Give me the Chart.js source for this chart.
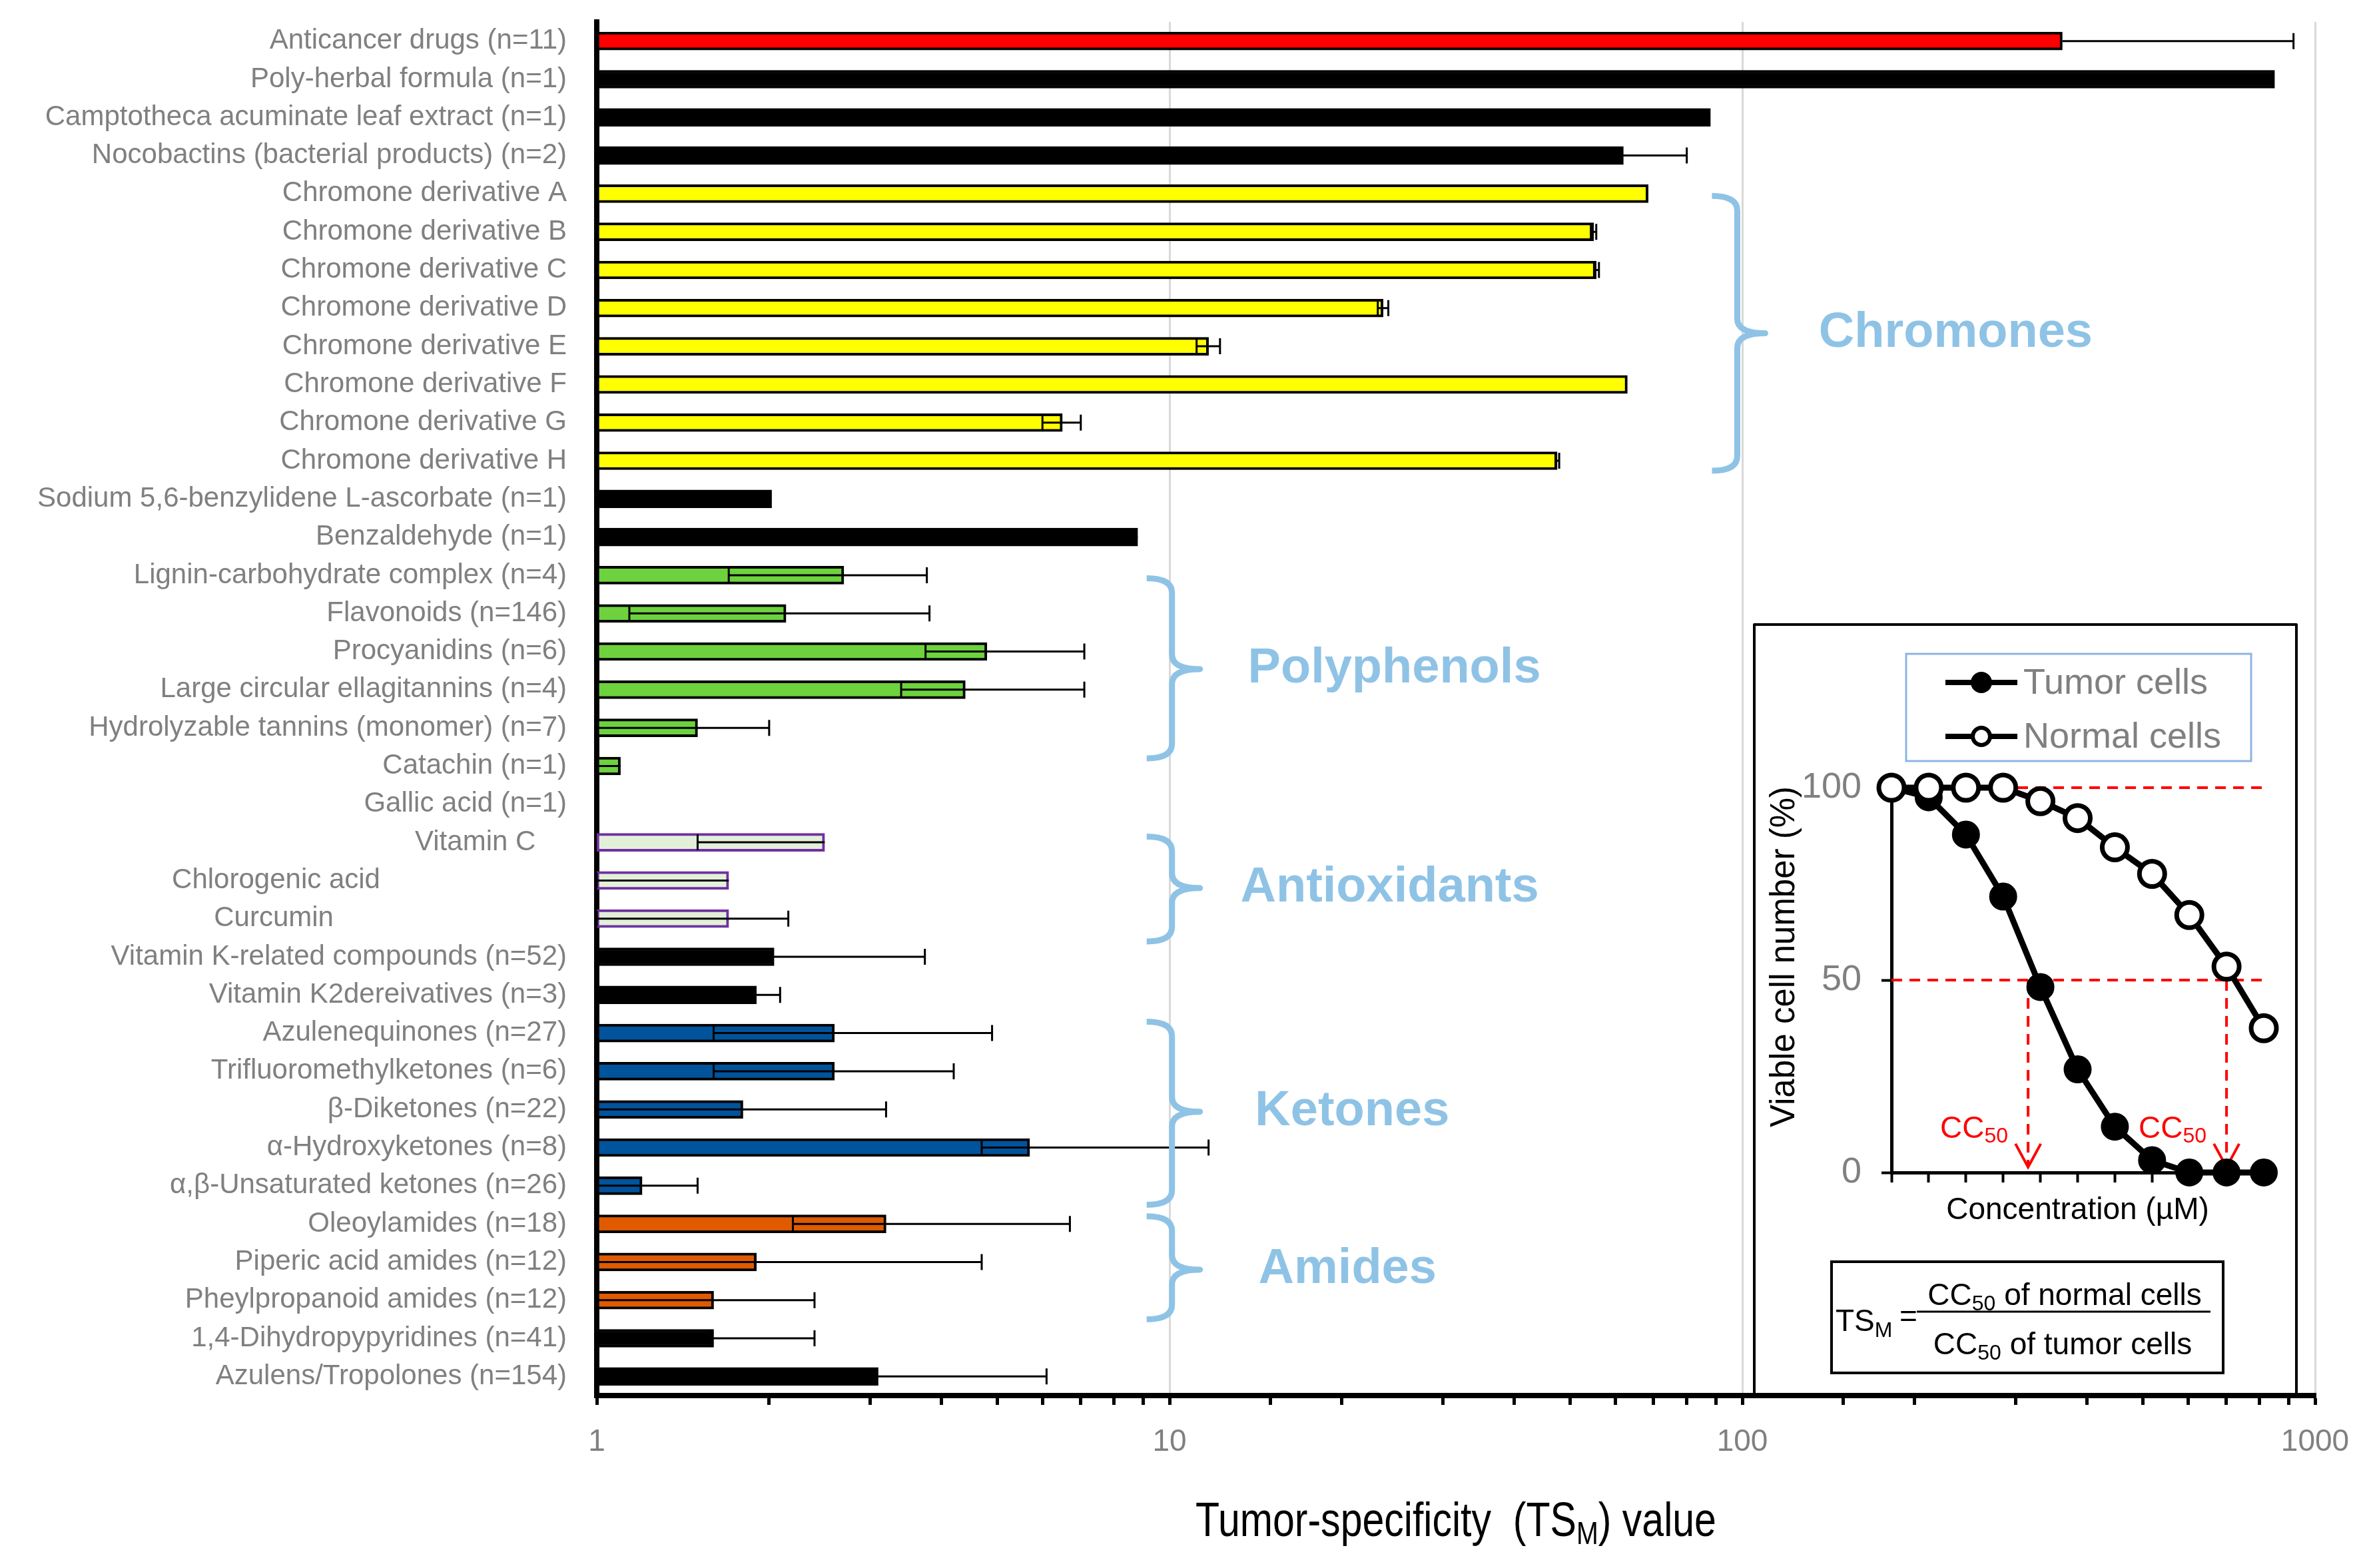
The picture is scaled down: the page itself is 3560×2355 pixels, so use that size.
<!DOCTYPE html>
<html>
<head>
<meta charset="utf-8">
<script src="https://cdn.jsdelivr.net/npm/chart.js@4.4.1/dist/chart.umd.min.js"></script>
<style>
  html, body { margin: 0; padding: 0; background: #fff; }
  #wrap { position: relative; width: 3560px; height: 2355px; }
  #main { position: absolute; left: 0; top: 0; }
  #inset { position: absolute; left: 2636px; top: 940px; }
</style>
</head>
<body>
<div id="wrap">
  <canvas id="main" width="3560" height="2355"></canvas>
  <canvas id="inset" width="810" height="1150"></canvas>
</div>
<script>
// data
const compounds = [
  "Anticancer drugs (n=11)", "Poly-herbal formula (n=1)", "Camptotheca acuminate leaf extract (n=1)",
  "Nocobactins (bacterial products) (n=2)", "Chromone derivative A", "Chromone derivative B",
  "Chromone derivative C", "Chromone derivative D", "Chromone derivative E", "Chromone derivative F",
  "Chromone derivative G", "Chromone derivative H", "Sodium 5,6-benzylidene L-ascorbate (n=1)",
  "Benzaldehyde (n=1)", "Lignin-carbohydrate complex (n=4)", "Flavonoids (n=146)", "Procyanidins (n=6)",
  "Large circular ellagitannins (n=4)", "Hydrolyzable tannins (monomer) (n=7)", "Catachin (n=1)",
  "Gallic acid (n=1)", "Vitamin C", "Chlorogenic acid", "Curcumin", "Vitamin K-related compounds (n=52)",
  "Vitamin K2dereivatives (n=3)", "Azulenequinones (n=27)", "Trifluoromethylketones (n=6)",
  "β-Diketones (n=22)", "α-Hydroxyketones (n=8)", "α,β-Unsaturated ketones (n=26)", "Oleoylamides (n=18)",
  "Piperic acid amides (n=12)", "Pheylpropanoid amides (n=12)", "1,4-Dihydropypyridines (n=41)",
  "Azulens/Tropolones (n=154)"
];
const tsmValues = [362, 850, 88, 62, 68.5, 55, 55.6, 23.6, 11.7, 63, 6.5, 47.5, 2.02, 8.8,
  2.7, 2.14, 4.8, 4.4, 1.5, 1.1, null, 2.5, 1.7, 1.7, 2.04, 1.9,
  2.6, 2.6, 1.8, 5.7, 1.2, 3.2, 1.9, 1.6, 1.6, 3.1];
const errMinus = [0, 0, 0, 1, 0, 0.6, 0.5, 0.5, 0.55, 0, 0.5, 0.3, 0, 1.0,
  1.0, 1.0, 1.05, 1.0, 0.5, 0.1, 0, 1.0, 0.7, 0.7, 1.0, 0.19,
  1.0, 1.0, 0.8, 1.0, 0.2, 1.0, 0.9, 0.6, 0.6, 1.0];
const errPlus = [555, 0, 0, 18, 0, 0.6, 0.6, 0.5, 0.55, 0, 0.5, 0.4, 0, 0,
  1.07, 1.67, 2.3, 2.7, 0.5, 0, 0, 0, 0, 0.46, 1.7, 0.19,
  2.3, 1.6, 1.4, 6.0, 0.3, 3.5, 2.8, 0.8, 0.8, 3.0];
const barKinds = ["red", "black", "black", "black",
  "yellow", "yellow", "yellow", "yellow", "yellow", "yellow", "yellow", "yellow",
  "black", "black", "green", "green", "green", "green", "green", "green", "green",
  "lilac", "lilac", "lilac", "black", "black",
  "blue", "blue", "blue", "blue", "blue", "orange", "orange", "orange", "black", "black"];

// inset: viability curves
const concSteps = [0, 1, 2, 3, 4, 5, 6, 7, 8, 9, 10];
const tumorViable = [100, 97.5, 87.8, 71.7, 48.2, 26.8, 11.9, 3.2, 0, 0, 0];
const normalViable = [100, 100, 100, 100, 96.5, 92.1, 84.5, 77.6, 66.9, 53.5, 37.5];
const cc50Tumor = 3.67;
const cc50Normal = 9.0;

// styling
const SANS = "'Liberation Sans', Arial, sans-serif";
const GRAY = "#808080";
const BRACE = "#8fc3e6";
const kindFill = { red: "#ff0000", black: "#000000", yellow: "#ffff00", green: "#6dd23e",
  lilac: "#e2f0d9", blue: "#01539b", orange: "#e05a00" };
const kindBorder = { red: "#000", black: "#000", yellow: "#000", green: "#000",
  lilac: "#7030a0", blue: "#000", orange: "#000" };
const labelNudge = { 21: 4, 22: 24, 23: 30 };
const groupNotes = [
  { name: "Chromones", top: 4.06, tip: 7.66, bottom: 11.26, at: 98, textAt: 136 },
  { name: "Polyphenols", top: 14.08, tip: 16.46, bottom: 18.8, at: 10.1, textAt: 13.7 },
  { name: "Antioxidants", top: 20.85, tip: 22.2, bottom: 23.6, at: 10.1, textAt: 13.3 },
  { name: "Ketones", top: 25.7, tip: 28.06, bottom: 30.5, at: 10.1, textAt: 14.1 },
  { name: "Amides", top: 30.8, tip: 32.2, bottom: 33.5, at: 10.1, textAt: 14.3 }
];

Chart.defaults.font.family = SANS;

const isDecade = v => Math.abs(Math.log10(v) - Math.round(Math.log10(v))) < 1e-9;

// text with subscripts: parts = [text, size, dy]
function drawParts(ctx, parts, x, y, align) {
  let total = 0;
  parts.forEach(p => { ctx.font = p[1] + "px " + SANS; total += ctx.measureText(p[0]).width; });
  let cx = align === "center" ? x - total / 2 : align === "right" ? x - total : x;
  ctx.textAlign = "left";
  ctx.textBaseline = "alphabetic";
  parts.forEach(p => {
    ctx.font = p[1] + "px " + SANS;
    ctx.fillText(p[0], cx, y + (p[2] || 0));
    cx += ctx.measureText(p[0]).width;
  });
}

function drawBrace(ctx, xp, yTop, yTip, yBot) {
  const hook = 38, nub = 42, r = 22;
  ctx.beginPath();
  ctx.moveTo(xp - hook, yTop);
  ctx.quadraticCurveTo(xp, yTop, xp, yTop + r);
  ctx.lineTo(xp, yTip - r);
  ctx.quadraticCurveTo(xp, yTip, xp + nub, yTip);
  ctx.quadraticCurveTo(xp, yTip, xp, yTip + r);
  ctx.lineTo(xp, yBot - r);
  ctx.quadraticCurveTo(xp, yBot, xp - hook, yBot);
  ctx.stroke();
}

const mainOverlay = {
  id: "mainOverlay",
  afterDatasetsDraw(chart) {
    const { ctx, chartArea, scales: { x, y } } = chart;
    ctx.save();
    // error bars
    ctx.strokeStyle = "#000";
    ctx.lineWidth = 3;
    tsmValues.forEach((v, i) => {
      if (v === null) return;
      const lo = errMinus[i], hi = errPlus[i];
      if (!lo && !hi) return;
      const yc = y.getPixelForValue(i);
      const xa = x.getPixelForValue(Math.max(1, v - lo));
      const xb = x.getPixelForValue(v + hi);
      ctx.beginPath();
      ctx.moveTo(xa, yc); ctx.lineTo(xb, yc);
      if (lo) { ctx.moveTo(xa, yc - 12); ctx.lineTo(xa, yc + 12); }
      if (hi) { ctx.moveTo(xb, yc - 12); ctx.lineTo(xb, yc + 12); }
      ctx.stroke();
    });
    // group braces and names
    ctx.strokeStyle = BRACE;
    ctx.fillStyle = BRACE;
    ctx.lineWidth = 9;
    ctx.lineJoin = "round";
    groupNotes.forEach(g => {
      drawBrace(ctx, x.getPixelForValue(g.at), y.getPixelForValue(g.top),
        y.getPixelForValue(g.tip), y.getPixelForValue(g.bottom));
      ctx.font = "bold 74px " + SANS;
      ctx.textAlign = "left";
      ctx.textBaseline = "middle";
      ctx.fillText(g.name, x.getPixelForValue(g.textAt), y.getPixelForValue(g.tip));
    });
    // frame of the inset
    ctx.fillStyle = "#fff";
    ctx.fillRect(2634, 938, 814, chartArea.bottom - 4 - 938);
    ctx.strokeStyle = "#000";
    ctx.lineWidth = 4;
    ctx.strokeRect(2634, 938, 814, chartArea.bottom - 938);
    ctx.restore();
  },
  afterDraw(chart) {
    const { ctx, chartArea } = chart;
    ctx.save();
    ctx.fillStyle = "#000";
    ctx.translate((chartArea.left + chartArea.right) / 2, 2307);
    ctx.scale(0.82, 1);
    drawParts(ctx, [["Tumor-specificity  (TS", 72], ["M", 48, 12], [") value", 72]], 0, 0, "center");
    ctx.restore();
  }
};

new Chart(document.getElementById("main"), {
  type: "bar",
  data: {
    labels: compounds,
    datasets: [{
      data: tsmValues,
      backgroundColor: barKinds.map(k => kindFill[k]),
      borderColor: barKinds.map(k => kindBorder[k]),
      borderWidth: 4,
      borderSkipped: false,
      barThickness: 27
    }]
  },
  options: {
    indexAxis: "y",
    responsive: false,
    devicePixelRatio: 1,
    animation: false,
    layout: { padding: { left: 0, right: 84, top: 33, bottom: 0 } },
    plugins: { legend: { display: false }, tooltip: { enabled: false } },
    scales: {
      x: {
        type: "logarithmic",
        min: 1,
        max: 1000,
        grid: {
          color: c => (c.tick && isDecade(c.tick.value) && c.tick.value > 1) ? "#d9d9d9" : "rgba(0,0,0,0)",
          lineWidth: 3,
          drawTicks: true,
          tickLength: 14,
          tickColor: "#000",
          tickWidth: 5
        },
        border: { color: "#000", width: 8 },
        ticks: {
          autoSkip: false,
          maxRotation: 0,
          color: GRAY,
          font: { size: 46 },
          padding: 29,
          callback: v => isDecade(v) ? String(v) : ""
        },
        afterFit: s => { s.height = 2355 - 2096; }
      },
      y: {
        grid: { display: false, drawTicks: false },
        border: { color: "#000", width: 8 },
        ticks: {
          autoSkip: false,
          color: GRAY,
          font: { size: 42 },
          padding: 45,
          callback: (v, i) => compounds[i] + "\u00a0".repeat(labelNudge[i] || 0)
        },
        afterFit: s => { s.width = 896; s.paddingTop = 0; s.paddingBottom = 0; }
      }
    }
  },
  plugins: [mainOverlay]
});

// ---------- inset ----------
const insetDecor = {
  id: "insetDecor",
  beforeDatasetsDraw(chart) {
    const { ctx, scales: { x, y } } = chart;
    ctx.save();
    ctx.strokeStyle = "#ff0000";
    ctx.lineWidth = 4;
    ctx.setLineDash([16, 11]);
    [100, 50].forEach(level => {
      ctx.beginPath();
      ctx.moveTo(x.getPixelForValue(0), y.getPixelForValue(level));
      ctx.lineTo(x.getPixelForValue(10), y.getPixelForValue(level));
      ctx.stroke();
    });
    const tipY = y.getPixelForValue(1.4);
    [cc50Tumor, cc50Normal].forEach(c => {
      const xc = x.getPixelForValue(c);
      ctx.setLineDash([16, 11]);
      ctx.beginPath();
      ctx.moveTo(xc, y.getPixelForValue(50));
      ctx.lineTo(xc, tipY - 4);
      ctx.stroke();
      ctx.setLineDash([]);
      ctx.beginPath();
      ctx.moveTo(xc - 19, tipY - 35);
      ctx.lineTo(xc, tipY);
      ctx.lineTo(xc + 19, tipY - 35);
      ctx.stroke();
    });
    ctx.restore();
  },
  afterDraw(chart) {
    const { ctx, scales: { x, y } } = chart;
    ctx.save();
    // y-axis title, set a little above the axis middle as in the figure
    ctx.save();
    ctx.translate(44, 497);
    ctx.rotate(-Math.PI / 2);
    ctx.fillStyle = "#000";
    ctx.font = "51px " + SANS;
    ctx.textAlign = "center";
    ctx.textBaseline = "middle";
    ctx.fillText(chart.options.scales.y.title.text, 0, 0);
    ctx.restore();
    // legend
    ctx.strokeStyle = "#8eb4e3";
    ctx.lineWidth = 3;
    ctx.strokeRect(226, 42, 518, 161);
    const entries = [chart.data.datasets[0], chart.data.datasets[1]];
    entries.forEach((ds, k) => {
      const ly = k === 0 ? 85 : 166;
      ctx.strokeStyle = "#000";
      ctx.lineWidth = 8;
      ctx.beginPath(); ctx.moveTo(285, ly); ctx.lineTo(393, ly); ctx.stroke();
      ctx.beginPath(); ctx.arc(339, ly, 13, 0, Math.PI * 2);
      ctx.fillStyle = ds.pointBackgroundColor;
      ctx.fill();
      ctx.lineWidth = 6;
      ctx.stroke();
      ctx.fillStyle = GRAY;
      ctx.font = "54px " + SANS;
      ctx.textAlign = "left";
      ctx.textBaseline = "middle";
      ctx.fillText(ds.label, 402, ly + 2);
    });
    // CC50 labels
    ctx.fillStyle = "#ff0000";
    [cc50Tumor, cc50Normal].forEach(c => {
      drawParts(ctx, [["CC", 46], ["50", 32, 7]], x.getPixelForValue(c) - 30, y.getPixelForValue(9), "right");
    });
    // formula box
    ctx.strokeStyle = "#000";
    ctx.lineWidth = 4;
    ctx.strokeRect(114, 955, 588, 167);
    ctx.fillStyle = "#000";
    drawParts(ctx, [["TS", 46], ["M", 32, 9]], 120, 1059, "left");
    ctx.font = "46px " + SANS;
    ctx.fillText("=", 216, 1052);
    ctx.lineWidth = 3;
    ctx.beginPath(); ctx.moveTo(242, 1030); ctx.lineTo(683, 1030); ctx.stroke();
    drawParts(ctx, [["CC", 46], ["50", 32, 8], [" of normal cells", 46]], 464, 1020, "center");
    drawParts(ctx, [["CC", 46], ["50", 32, 8], [" of tumor cells", 46]], 461, 1094, "center");
    ctx.restore();
  }
};

new Chart(document.getElementById("inset"), {
  type: "line",
  data: {
    datasets: [
      {
        label: "Tumor cells",
        data: concSteps.map((c, i) => ({ x: c, y: tumorViable[i] })),
        borderColor: "#000",
        borderWidth: 9,
        pointRadius: 20,
        pointBackgroundColor: "#000",
        pointBorderColor: "#000",
        pointBorderWidth: 2,
        order: 1,
        clip: false
      },
      {
        label: "Normal cells",
        data: concSteps.map((c, i) => ({ x: c, y: normalViable[i] })),
        borderColor: "#000",
        borderWidth: 9,
        pointRadius: 19,
        pointBackgroundColor: "#fff",
        pointBorderColor: "#000",
        pointBorderWidth: 7,
        order: 0,
        clip: false
      }
    ]
  },
  options: {
    responsive: false,
    devicePixelRatio: 1,
    animation: false,
    layout: { padding: { left: 0, right: 47, top: 243, bottom: 229 } },
    plugins: { legend: { display: false }, tooltip: { enabled: false } },
    scales: {
      x: {
        type: "linear",
        min: 0,
        max: 10,
        ticks: { display: false, stepSize: 1 },
        grid: { drawOnChartArea: false, drawTicks: true, tickLength: 15, tickColor: "#000", tickWidth: 4 },
        border: { color: "#000", width: 5 },
        title: { display: true, text: "Concentration (µM)", color: "#000", font: { size: 46 }, padding: { top: 0, bottom: 15 } },
        afterFit: s => { s.height = 100; }
      },
      y: {
        min: 0,
        max: 100,
        ticks: { stepSize: 50, color: GRAY, font: { size: 54 }, padding: 30 },
        grid: { drawOnChartArea: false, drawTicks: true, tickLength: 15, tickColor: "#000", tickWidth: 4 },
        border: { color: "#000", width: 5 },
        title: { display: false, text: "Viable cell number (%)" },
        afterFit: s => { s.width = 204; s.paddingTop = 0; s.paddingBottom = 0; }
      }
    }
  },
  plugins: [insetDecor]
});
</script>
</body>
</html>
